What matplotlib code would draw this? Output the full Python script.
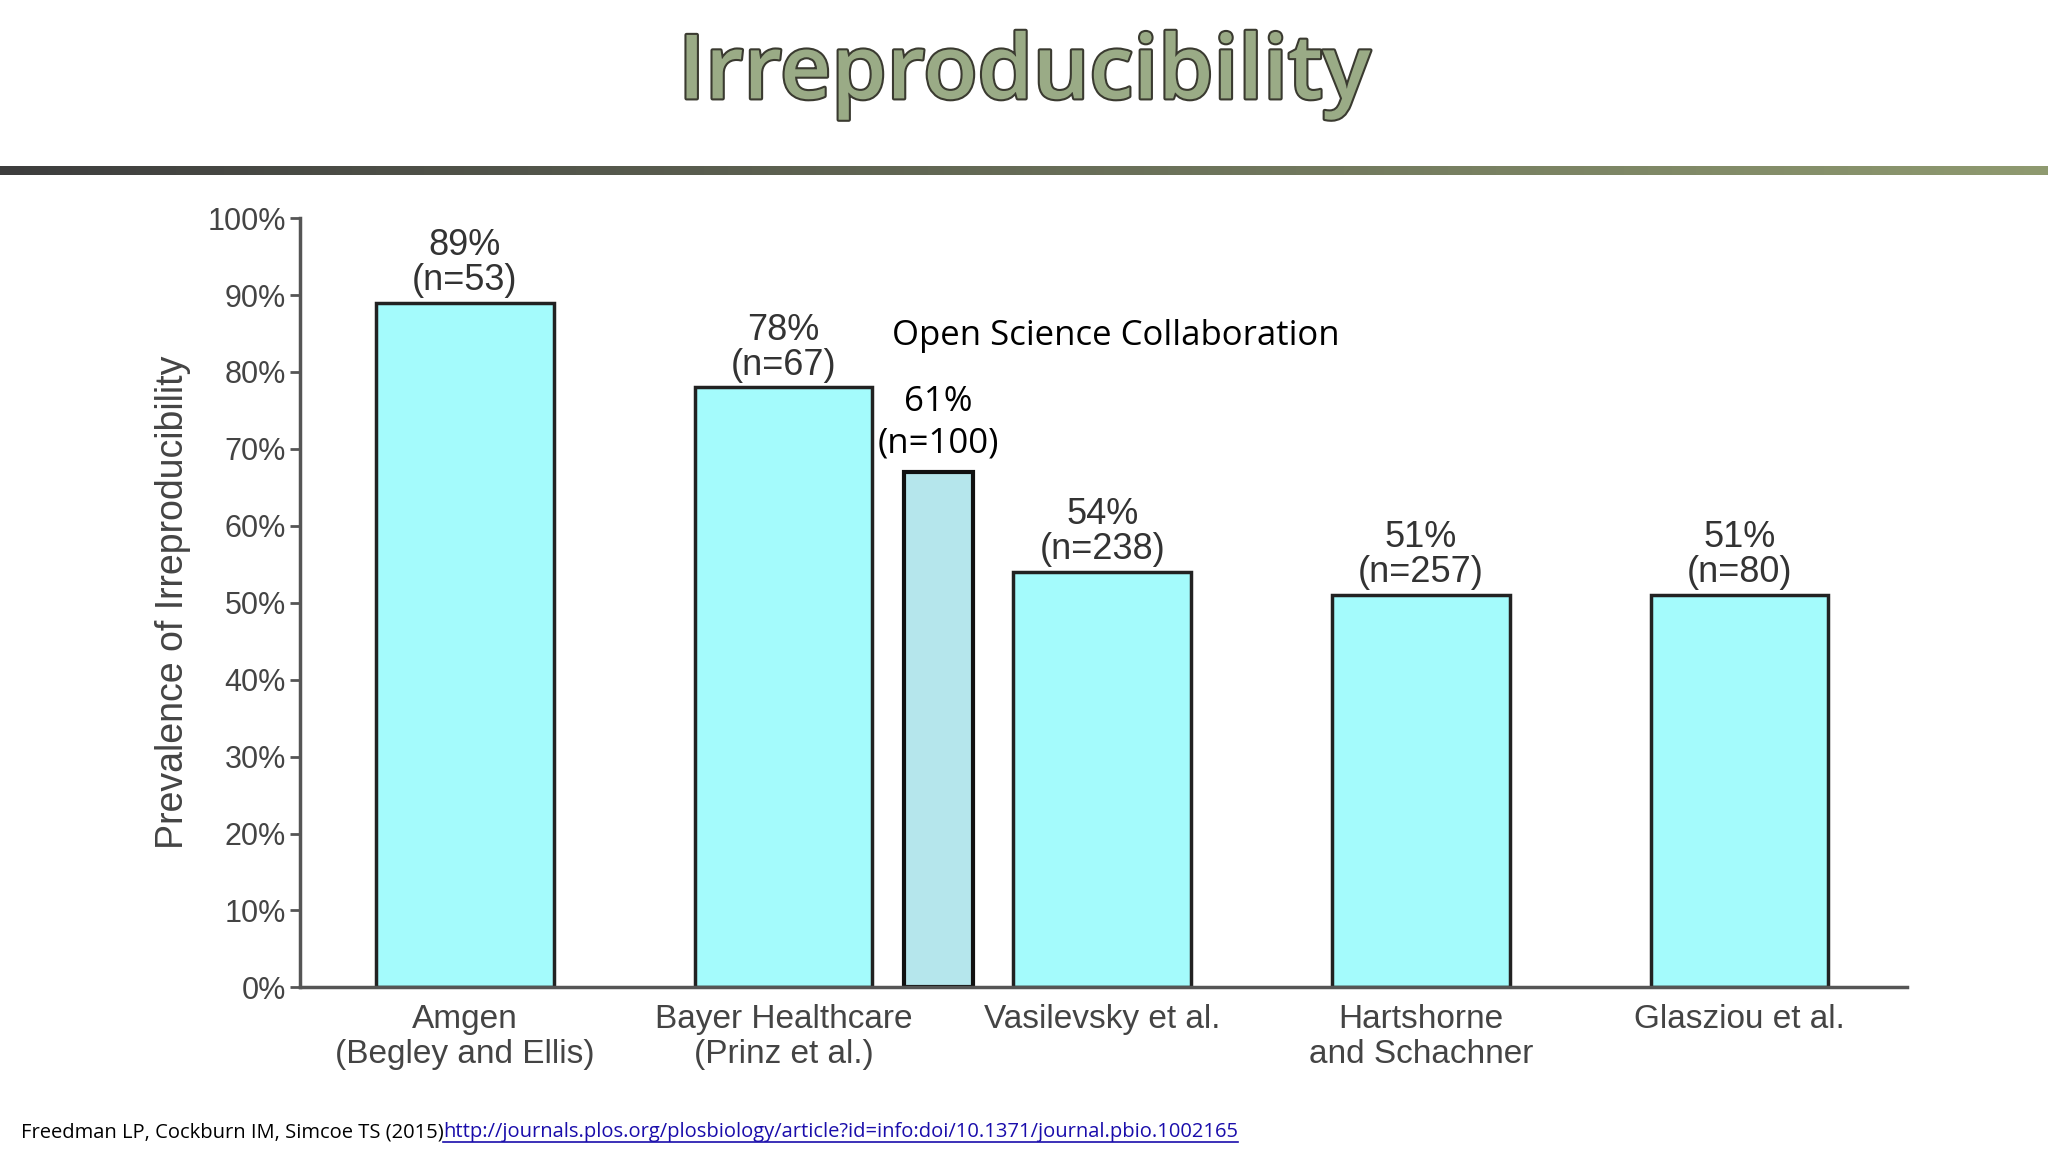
import numpy as np
import matplotlib.pyplot as plt
import matplotlib.patheffects as pe

categories = ['Amgen\n(Begley and Ellis)', 'Bayer Healthcare\n(Prinz et al.)',
              'Vasilevsky et al.', 'Hartshorne\nand Schachner', 'Glasziou et al.']
values = [89, 78, 54, 51, 51]
counts = [53, 67, 238, 257, 80]
osc_value = 67        # drawn height of the added bar
osc_label = '61%\n(n=100)'
yticks = list(range(0, 101, 10))

fig = plt.figure(figsize=(20.48, 11.52), dpi=100)

# title and divider
fig.text(0.5, 0.935, 'Irreproducibility', ha='center', va='center', fontsize=64,
         family='Open Sans', fontweight='semibold', color='#9aab86',
         path_effects=[pe.withStroke(linewidth=3, foreground='#3a3a30')])
lax = fig.add_axes([0, 0.848, 1, 0.008])
lax.imshow(np.linspace(0, 1, 256)[None, :], aspect='auto',
           cmap=plt.matplotlib.colors.LinearSegmentedColormap.from_list('g', ['#3d3d3d', '#8f9a70']))
lax.axis('off')

ax = fig.add_axes([0.1467, 0.1429, 0.931 - 0.1467, 0.8107 - 0.1429])
x = np.arange(len(categories))
ax.bar(x, values, width=0.557, color='#a4fbfc', edgecolor='#222222', linewidth=2.5)
for xi, v, n in zip(x, values, counts):
    ax.text(xi, v + 0.6, f'{v}%\n(n={n})', ha='center', va='bottom', fontsize=26,
            family='Liberation Sans', color='#333333', linespacing=1.0)
ax.bar(1.486, osc_value, width=0.217, color='#b5e6ec', edgecolor='#111111', linewidth=3)
ax.text(1.486, osc_value + 1.5, osc_label, ha='center', va='bottom', fontsize=25,
        family='Open Sans', color='black', linespacing=1.3)
ax.text(1.34, 82.5, 'Open Science Collaboration', ha='left', va='bottom', fontsize=25,
        family='Open Sans', color='black')

ax.set_xlim(-0.516, 4.525)
ax.set_ylim(0, 100)
ax.set_xticks(x)
ax.set_xticklabels(categories, fontsize=24, family='Liberation Sans', color='#444444',
                   linespacing=1.15)
ax.set_yticks(yticks)
ax.set_yticklabels([f'{t}%' for t in yticks], fontsize=22, family='Liberation Sans',
                   color='#444444')
ax.tick_params(axis='x', length=0, pad=12)
ax.tick_params(axis='y', length=7, width=2, color='#555555')
ax.set_ylabel('Prevalence of Irreproducibility', fontsize=27, family='Liberation Sans',
              color='#444444', labelpad=12)
for s in ['top', 'right']:
    ax.spines[s].set_visible(False)
for s in ['left', 'bottom']:
    ax.spines[s].set_linewidth(2.5)
    ax.spines[s].set_color('#555555')

fig.text(0.0102, 0.017, 'Freedman LP, Cockburn IM, Simcoe TS (2015)', fontsize=14.5,
         family='Open Sans', va='center', ha='left')
url = fig.text(0.2165, 0.017,
               'http://journals.plos.org/plosbiology/article?id=info:doi/10.1371/journal.pbio.1002165',
               fontsize=14.5, family='Open Sans', va='center', ha='left', color='#1a0dab')
fig.canvas.draw()
bb = url.get_window_extent().transformed(fig.transFigure.inverted())
fig.lines.append(plt.Line2D([bb.x0, bb.x1], [0.009, 0.009], color='#1a0dab', lw=1.2,
                            transform=fig.transFigure))

fig.savefig('out.png', dpi=100)
